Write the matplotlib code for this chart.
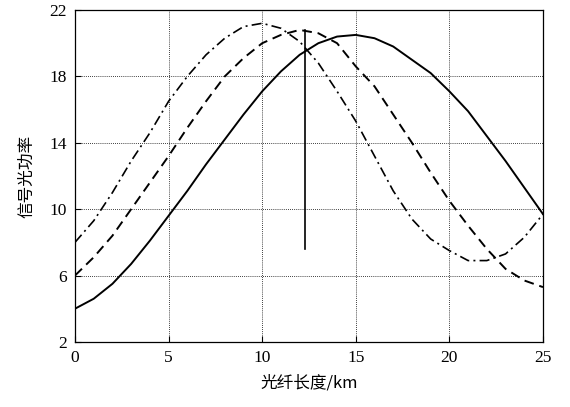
import matplotlib
matplotlib.use("Agg")
import matplotlib.pyplot as plt

x_km = list(range(0, 26))
solid = [4.0, 4.6, 5.5, 6.7, 8.1, 9.6, 11.1, 12.7, 14.2, 15.7, 17.1, 18.3, 19.3, 20.0, 20.4, 20.5,
         20.3, 19.8, 19.0, 18.2, 17.1, 15.9, 14.4, 12.9, 11.3, 9.7]
dashed = [6.0, 7.1, 8.4, 10.0, 11.6, 13.2, 14.9, 16.5, 18.0, 19.1, 20.0, 20.5, 20.8, 20.6, 20.0, 18.6,
          17.4, 15.7, 14.0, 12.2, 10.5, 9.0, 7.6, 6.4, 5.7, 5.3]
dashdot = [8.0, 9.3, 11.0, 12.9, 14.6, 16.5, 18.0, 19.3, 20.3, 21.0, 21.2, 20.9, 20.1, 18.8, 17.1, 15.3,
           13.2, 11.1, 9.4, 8.2, 7.5, 6.9, 6.9, 7.3, 8.3, 9.7]
marker_x = [12.3, 12.3]
marker_y = [7.6, 20.8]

xticks = [0, 5, 10, 15, 20, 25]
yticks = [2, 6, 10, 14, 18, 22]
xlabel = "光纤长度/km"
ylabel = "信号光功率"

fig = plt.figure(figsize=(5.7, 4.07), dpi=100)
ax = fig.add_axes([0.1316, 0.160, 0.821, 0.8154])

ax.plot(x_km, solid, color="black", lw=1.4, ls="-")
ax.plot(x_km, dashed, color="black", lw=1.4, ls=(0, (5, 3)))
ax.plot(x_km, dashdot, color="black", lw=1.2, ls=(0, (6, 2.5, 1.2, 2.5)))
ax.plot(marker_x, marker_y, color="black", lw=1.2)

ax.set_xlim(0, 25)
ax.set_ylim(2, 22)
ax.set_xticks(xticks)
ax.set_yticks(yticks)
ax.grid(True, color="black", ls=(0, (1, 1.5)), lw=0.6)
ax.tick_params(direction="in", length=4, width=0.8, top=False, right=False, pad=6)
for lab in ax.get_xticklabels() + ax.get_yticklabels():
    lab.set_fontfamily("Liberation Serif")
    lab.set_fontsize(12.5)
for s in ax.spines.values():
    s.set_linewidth(0.9)

fam = ["Noto Sans CJK SC", "Liberation Serif"]
ax.set_xlabel(xlabel, family=fam, fontsize=12, labelpad=6)
ax.set_ylabel(ylabel, family=fam, fontsize=12, labelpad=10)

fig.savefig("out.png", dpi=100)
